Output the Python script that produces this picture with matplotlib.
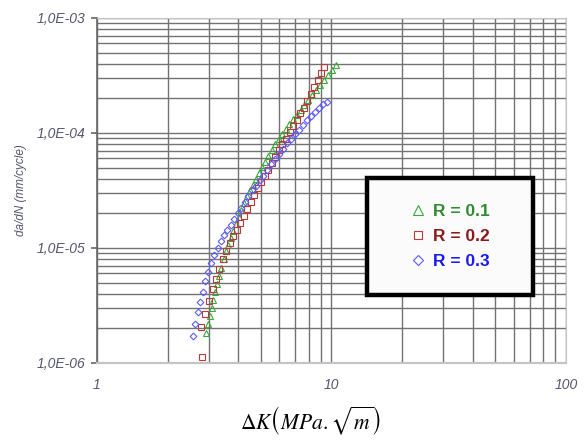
import matplotlib
matplotlib.use('Agg')
import matplotlib.pyplot as plt
from matplotlib.patches import Rectangle
from matplotlib.ticker import LogLocator, FixedLocator

plt.rcParams['font.family'] = ['Liberation Sans', 'DejaVu Sans']
plt.rcParams['mathtext.fontset'] = 'stix'

# R = 0.1
dk_r1 = [2.924, 2.979, 3.034, 3.083, 3.133, 3.192, 3.251, 3.319, 3.388, 3.467, 3.548,
         3.631, 3.724, 3.819, 3.917, 4.018, 4.130, 4.246, 4.365, 4.487, 4.624,
         4.764, 4.898, 5.047, 5.212, 5.383, 5.559, 5.754, 5.957, 6.166, 6.383,
         6.607, 6.855, 7.112, 7.379, 7.656, 7.943, 8.260, 8.590, 8.933, 9.290,
         9.661, 10.07, 10.50]
dadn_r1 = [1.820e-6, 2.188e-6, 2.570e-6, 3.020e-6, 3.548e-6, 4.169e-6, 4.898e-6, 5.754e-6,
           6.761e-6, 7.943e-6, 9.333e-6, 1.072e-5, 1.230e-5, 1.413e-5, 1.622e-5, 1.862e-5,
           2.138e-5, 2.455e-5, 2.818e-5, 3.162e-5, 3.548e-5, 3.981e-5, 4.467e-5, 5.012e-5,
           5.623e-5, 6.310e-5, 7.079e-5, 7.943e-5, 8.810e-5, 9.772e-5, 1.084e-4, 1.202e-4,
           1.318e-4, 1.445e-4, 1.585e-4, 1.738e-4, 1.928e-4, 2.138e-4, 2.344e-4, 2.600e-4,
           2.884e-4, 3.162e-4, 3.508e-4, 3.890e-4]

# R = 0.2
dk_r2 = [2.81, 2.780, 2.897, 3.013, 3.119, 3.221, 3.327, 3.436, 3.556, 3.681, 3.811,
         3.945, 4.083, 4.227, 4.375, 4.529, 4.688, 4.853, 5.023, 5.200, 5.383,
         5.572, 5.768, 5.970, 6.180, 6.397, 6.622, 6.855, 7.096, 7.345, 7.603,
         7.870, 8.147, 8.433, 8.730, 9.036, 9.333]
dadn_r2 = [1.13e-6, 2.042e-6, 2.692e-6, 3.467e-6, 4.365e-6, 5.370e-6, 6.607e-6, 7.943e-6,
           9.333e-6, 1.096e-5, 1.259e-5, 1.445e-5, 1.660e-5, 1.905e-5, 2.188e-5, 2.512e-5,
           2.884e-5, 3.311e-5, 3.715e-5, 4.266e-5, 4.786e-5, 5.495e-5, 6.166e-5, 7.079e-5,
           7.943e-5, 8.913e-5, 1.023e-4, 1.148e-4, 1.288e-4, 1.479e-4, 1.660e-4, 1.905e-4,
           2.188e-4, 2.512e-4, 2.884e-4, 3.311e-4, 3.715e-4]

# R = 0.3
dk_r3 = [2.576, 2.630, 2.692, 2.754, 2.825, 2.897, 2.979, 3.069, 3.162, 3.266,
         3.373, 3.483, 3.597, 3.715, 3.846, 3.981, 4.121, 4.266, 4.426, 4.592,
         4.764, 4.943, 5.129, 5.321, 5.521, 5.741, 5.970, 6.209, 6.457, 6.714,
         6.982, 7.261, 7.551, 7.852, 8.166, 8.492, 8.831, 9.183, 9.528]
dadn_r3 = [1.718e-6, 2.188e-6, 2.754e-6, 3.388e-6, 4.169e-6, 5.129e-6, 6.166e-6, 7.413e-6,
           8.710e-6, 1.000e-5, 1.148e-5, 1.288e-5, 1.445e-5, 1.585e-5, 1.778e-5, 1.995e-5,
           2.239e-5, 2.512e-5, 2.818e-5, 3.162e-5, 3.467e-5, 3.890e-5, 4.266e-5, 4.786e-5,
           5.370e-5, 5.888e-5, 6.607e-5, 7.244e-5, 8.128e-5, 8.913e-5, 9.772e-5, 1.072e-4,
           1.175e-4, 1.288e-4, 1.413e-4, 1.514e-4, 1.660e-4, 1.778e-4, 1.862e-4]

labels = ['R = 0.1', 'R = 0.2', 'R = 0.3']
yticks = [1e-6, 1e-5, 1e-4, 1e-3]
ytick_labels = ['1,0E-06', '1,0E-05', '1,0E-04', '1,0E-03']
xticks = [1, 10, 100]
xtick_labels = ['1', '10', '100']

fig = plt.figure(figsize=(5.85, 4.45), dpi=100)
ax = fig.add_axes([0.1658, 0.1843, 0.8017, 0.7753])
ax.set_xscale('log')
ax.set_yscale('log')
ax.set_xlim(1, 100)
ax.set_ylim(1e-6, 1e-3)

ax.plot(dk_r1, dadn_r1, ls='none', marker='^', ms=4.2, mfc='none', mec='#3aa83a', mew=0.8,
        label=labels[0], zorder=3)
ax.plot(dk_r2, dadn_r2, ls='none', marker='s', ms=4.0, mfc='none', mec='#b83a3a', mew=0.8,
        label=labels[1], zorder=3)
ax.plot(dk_r3, dadn_r3, ls='none', marker='D', ms=3.4, mfc='none', mec='#5a5aff', mew=0.8,
        label=labels[2], zorder=3)

ax.xaxis.set_major_locator(FixedLocator(xticks))
ax.xaxis.set_minor_locator(LogLocator(base=10, subs=range(2, 10)))
ax.yaxis.set_major_locator(FixedLocator(yticks))
ax.yaxis.set_minor_locator(LogLocator(base=10, subs=range(2, 10)))
ax.set_xticklabels(xtick_labels)
ax.set_yticklabels(ytick_labels)
ax.xaxis.set_minor_formatter(plt.NullFormatter())
ax.yaxis.set_minor_formatter(plt.NullFormatter())

ax.grid(True, which='both', color='#727272', lw=1.0)
ax.set_axisbelow(True)
ax.tick_params(axis='x', which='both', length=0, pad=11, labelsize=10, labelcolor='#55556e')
ax.tick_params(axis='y', which='major', length=4.5, width=1.2, color='#666666', pad=3.5,
               labelsize=10, labelcolor='#55556e')
ax.tick_params(axis='y', which='minor', length=0)
for t in ax.get_xticklabels() + ax.get_yticklabels():
    t.set_fontstyle('italic')

ax.spines['left'].set_color('#666666')
ax.spines['left'].set_linewidth(1.2)
ax.spines['bottom'].set_color('#c4c4c4')
ax.spines['bottom'].set_linewidth(1.6)
ax.spines['top'].set_color('#c4c4c4')
ax.spines['right'].set_color('#c4c4c4')

ax.set_ylabel('da/dN (mm/cycle)', fontsize=8.5, fontstyle='italic', color='#55556e')
ax.yaxis.set_label_coords(-0.15, 0.5)
fig.text(0.53, 0.055, r'$\Delta K\left(MPa.\sqrt{m}\right)$', fontsize=15.5,
         ha='center', va='center')

# legend frame
frame = Rectangle((0.576, 0.197), 0.354, 0.339, transform=ax.transAxes, fill=True,
                  facecolor='#fbfbfb', edgecolor='black', lw=3.2, zorder=4)
ax.add_patch(frame)
leg = ax.legend(loc='center', bbox_to_anchor=(0.753, 0.367), frameon=False,
                prop={'weight': 'bold', 'size': 12.5}, markerscale=1.6,
                handlelength=0.9, handletextpad=0.4, labelspacing=0.55)
leg.set_zorder(5)
for txt, col in zip(leg.get_texts(), ['#2e8b2e', '#8b1a1a', '#1a1aee']):
    txt.set_color(col)

fig.savefig('out.png', dpi=100)
